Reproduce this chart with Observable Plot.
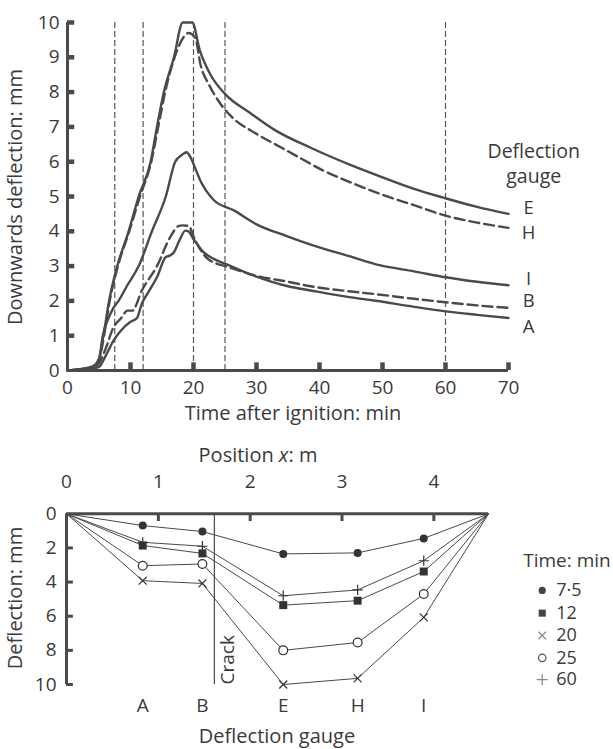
<!DOCTYPE html>
<html><head><meta charset="utf-8">
<script src="https://cdn.jsdelivr.net/npm/d3@7"></script>
<script src="https://cdn.jsdelivr.net/npm/@observablehq/plot@0.6"></script>
<style>
body{margin:0;background:#fff;}
#wrap{position:relative;width:613px;height:749px;overflow:hidden;background:#fff;}
#wrap svg{display:block;}
</style></head><body><div id="wrap"></div>
<script>
// ================= TOP PANEL DATA =================
const guideTimes = [7.5, 12, 20, 25, 60];
const timeTicks = [10, 20, 30, 40, 50, 60, 70];
const timeTickLabels = [0, 10, 20, 30, 40, 50, 60, 70];
const deflTicks = [1, 2, 3, 4, 5, 6, 7, 8, 9, 10];
const deflTickLabels = [0, 1, 2, 3, 4, 5, 6, 7, 8, 9, 10];

const tE = [0, 2, 4, 5, 5.7, 6.6, 7.9, 9.7, 11.3, 13.2, 14.2, 15.3, 16.9, 18.3, 19.8, 21, 22.7, 25, 29, 33, 38.6, 45, 50, 55, 60, 65, 70];
const vE = [0, 0.04, 0.12, 0.35, 1, 2, 3, 4, 5, 6, 7, 8, 9, 10, 10, 9.2, 8.5, 7.95, 7.4, 6.9, 6.4, 5.9, 5.55, 5.22, 4.95, 4.7, 4.5];

const tH = [0, 2, 4, 5, 5.8, 6.7, 8, 9.8, 11.5, 13.3, 14.4, 15.5, 17, 18.5, 19.2, 20.3, 21.1, 22.5, 24.3, 26, 30, 34, 37.5, 40, 45, 50, 55, 60, 65, 70];
const vH = [0, 0.04, 0.1, 0.3, 1, 2, 3, 4, 5, 6, 7, 8, 9, 9.6, 9.7, 9.55, 8.8, 8.2, 7.66, 7.3, 6.8, 6.4, 6.05, 5.8, 5.4, 5.05, 4.75, 4.45, 4.25, 4.1];

const tI = [0, 2, 4, 5, 5.6, 6.5, 7.3, 8.1, 9.5, 11.3, 13.4, 15.6, 17.1, 18.2, 18.9, 19.6, 20.3, 21.1, 23.2, 26.4, 30, 35, 38.6, 45, 49.7, 55, 60, 65, 70];
const vI = [0, 0.03, 0.1, 0.3, 1, 1.5, 1.8, 2, 2.45, 3, 4, 5, 6, 6.2, 6.27, 6.1, 5.8, 5.45, 4.9, 4.6, 4.2, 3.85, 3.62, 3.27, 3.02, 2.85, 2.68, 2.55, 2.45];

const tB = [0, 2, 4, 5, 6, 7.3, 8.5, 9.5, 10.3, 11.8, 14.2, 16.3, 17.6, 18.2, 19.3, 20, 21, 22, 23.3, 25, 30, 35, 38.6, 45, 48.6, 55, 60, 65, 70];
const vB = [0, 0.02, 0.08, 0.2, 0.6, 1.24, 1.5, 1.72, 1.72, 2.3, 3.0, 3.83, 4.15, 4.17, 4.15, 3.85, 3.5, 3.25, 3.1, 3.0, 2.72, 2.55, 2.42, 2.27, 2.2, 2.06, 1.96, 1.87, 1.8];

const tA = [0, 2, 4, 5, 6, 7.3, 8.5, 10, 11, 11.8, 13, 14.2, 15.6, 16.2, 16.9, 17.8, 18.7, 19.2, 20, 21.6, 23.3, 25, 29.5, 35, 38.6, 45, 48.6, 55, 60, 65, 70];
const vA = [0, 0.02, 0.06, 0.1, 0.4, 0.86, 1.15, 1.4, 1.5, 1.92, 2.3, 2.68, 3.26, 3.3, 3.4, 3.75, 4.02, 4.0, 3.78, 3.4, 3.2, 3.07, 2.73, 2.42, 2.3, 2.1, 2.01, 1.83, 1.7, 1.6, 1.51];

const curveNames = ["E", "H", "I", "B", "A"];
const curveLabelT = 73.2;
const curveLabelV = [4.68, 3.94, 2.64, 1.99, 1.26];

// ================= BOTTOM PANEL DATA =================
const gaugeNames = ["A", "B", "E", "H", "I"];
const gaugePos = [0.83, 1.48, 2.36, 3.17, 3.89];
const spanEnd = 4.595;
const crackPos = 1.61;
const posTicks = [1, 2, 3, 4];
const posTickLabels = [0, 1, 2, 3, 4];
const bDeflTicks = [2, 4, 6, 8, 10];
const bDeflTickLabels = [0, 2, 4, 6, 8, 10];
const timeNames = ["7·5", "12", "20", "25", "60"];
const d7_5 = [0.69, 1.04, 2.35, 2.29, 1.44];
const d12 = [1.86, 2.32, 5.35, 5.09, 3.38];
const d20 = [3.92, 4.08, 10.0, 9.64, 6.07];
const d25 = [3.04, 2.94, 8.0, 7.54, 4.7];
const d60 = [1.67, 1.9, 4.8, 4.46, 2.75];
const legendX = 5.18;
const legendTitleX = 5.45;
const legendTitleY = 2.78;
const legendY = [4.49, 5.82, 7.13, 8.44, 9.72];

// ================= STYLE =================
const ink = "#4a4a4a";
const txt = "#3a3a3a";
const font = "'Open Sans', 'Noto Sans', sans-serif";

// ---------- build top ----------
function rows(name, t, v) { return t.map((d, i) => ({gauge: name, t: d, v: v[i]})); }
const solid = [...rows("E", tE, vE), ...rows("I", tI, vI), ...rows("A", tA, vA)];
const dashed = [...rows("H", tH, vH), ...rows("B", tB, vB)];
const curveLabels = curveNames.map((n, i) => ({n, t: curveLabelT, v: curveLabelV[i]}));

const topPlot = Plot.plot({
  width: 613, height: 430,
  marginLeft: 67, marginRight: 105, marginTop: 22, marginBottom: 60,
  x: {domain: [0, 70]},
  y: {domain: [0, 10]},
  style: {fontFamily: font, fontSize: "19px", color: txt, background: "transparent", overflow: "visible"},
  marks: [
    Plot.ruleX(guideTimes, {x: d => d, y1: 0, y2: 10, stroke: "#555", strokeWidth: 1.2, strokeDasharray: "6,3"}),
    Plot.line(solid, {x: "t", y: "v", z: "gauge", stroke: ink, strokeWidth: 2.4, curve: "monotone-x"}),
    Plot.line(dashed, {x: "t", y: "v", z: "gauge", stroke: ink, strokeWidth: 2.4, strokeDasharray: "10,5", curve: "monotone-x"}),
    Plot.ruleY([0], {x1: 0, x2: 70, stroke: ink, strokeWidth: 3}),
    Plot.ruleX([0], {y1: 0, y2: 10, stroke: ink, strokeWidth: 3}),
    Plot.ruleX(timeTicks, {x: d => d, y1: 0, y2: 0.22, stroke: ink, strokeWidth: 4.5}),
    Plot.ruleY(deflTicks, {y: d => d, x1: 0, x2: 1.15, stroke: ink, strokeWidth: 4.5}),
    Plot.axisX(timeTickLabels, {tickSize: 0, tickPadding: 10, label: null}),
    Plot.axisY(deflTickLabels, {tickSize: 0, tickPadding: 8, label: null}),
    Plot.text(curveLabels, {x: "t", y: "v", text: "n", fill: txt, textAnchor: "middle", fontSize: 18.5}),
    Plot.text(["Deflection\ngauge"], {x: 74, y: 5.98, text: d => d, fill: txt, lineHeight: 1.32, textAnchor: "middle", fontSize: 19.5})
  ]
});

// ---------- build bottom ----------
const series = [d7_5, d12, d20, d25, d60];
const bLines = [];
const bDots = [];
series.forEach((vals, k) => {
  bLines.push({time: timeNames[k], x: 0, y: 0});
  vals.forEach((v, i) => {
    bLines.push({time: timeNames[k], x: gaugePos[i], y: v});
    bDots.push({time: timeNames[k], x: gaugePos[i], y: v});
  });
  bLines.push({time: timeNames[k], x: spanEnd, y: 0});
});
const dotsFor = name => bDots.filter(d => d.time === name);
const legend = timeNames.map((n, i) => ({n, y: legendY[i]}));
const legendFor = name => legend.filter(d => d.n === name);

const bottomPlot = Plot.plot({
  width: 613, height: 319,
  marginLeft: 66, marginRight: 125, marginTop: 83.3, marginBottom: 65,
  x: {domain: [0, spanEnd]},
  y: {domain: [0, 10], reverse: true},
  style: {fontFamily: font, fontSize: "19px", color: txt, background: "transparent", overflow: "visible"},
  marks: [
    Plot.ruleX([crackPos], {x: d => d, y1: 0, y2: 10, stroke: ink, strokeWidth: 1.2}),
    Plot.text(["Crack"], {x: crackPos, y: 10, text: d => d, rotate: -90, textAnchor: "start", dx: 14, fill: txt}),
    Plot.line(bLines, {x: "x", y: "y", z: "time", stroke: ink, strokeWidth: 1}),
    Plot.ruleY([0], {x1: 0, x2: spanEnd, stroke: ink, strokeWidth: 3}),
    Plot.ruleX([0], {y1: 0, y2: 10, stroke: ink, strokeWidth: 3}),
    Plot.ruleX(posTicks, {x: d => d, y1: 0, y2: 0.45, stroke: ink, strokeWidth: 3}),
    Plot.ruleY(bDeflTicks, {y: d => d, x1: 0, x2: 0.075, stroke: ink, strokeWidth: 3}),
    Plot.dot(dotsFor("7·5"), {x: "x", y: "y", symbol: "circle", r: 4, fill: "#333", stroke: "none"}),
    Plot.dot(dotsFor("12"), {x: "x", y: "y", symbol: "square", r: 4.5, fill: "#333", stroke: "none"}),
    Plot.dot(dotsFor("20"), {x: "x", y: "y", symbol: "times", r: 3.7, fill: "none", stroke: "#333", strokeWidth: 1.2}),
    Plot.dot(dotsFor("25"), {x: "x", y: "y", symbol: "circle", r: 4.4, fill: "white", stroke: "#333", strokeWidth: 1.2}),
    Plot.dot(dotsFor("60"), {x: "x", y: "y", symbol: "plus", r: 3.4, fill: "none", stroke: "#333", strokeWidth: 1.2}),
    Plot.axisX(posTickLabels, {anchor: "top", tickSize: 0, tickPadding: 26, label: null}),
    Plot.axisX(gaugePos, {anchor: "bottom", tickSize: 0, tickPadding: 14, tickFormat: d => gaugeNames[gaugePos.indexOf(d)], label: null}),
    Plot.axisY(bDeflTickLabels, {anchor: "left", tickSize: 0, tickPadding: 10, label: null}),
    // legend
    Plot.text(["Time: min"], {x: legendTitleX, y: legendTitleY, text: d => d, fill: txt, textAnchor: "middle"}),
    Plot.dot(legendFor("7·5"), {x: legendX, y: "y", symbol: "circle", r: 3.6, fill: "#444"}),
    Plot.dot(legendFor("12"), {x: legendX, y: "y", symbol: "square", r: 4, fill: "#444"}),
    Plot.dot(legendFor("20"), {x: legendX, y: "y", symbol: "times", r: 3.5, fill: "none", stroke: "#888", strokeWidth: 1.2}),
    Plot.dot(legendFor("25"), {x: legendX, y: "y", symbol: "circle", r: 3.7, fill: "white", stroke: "#555", strokeWidth: 1.2}),
    Plot.dot(legendFor("60"), {x: legendX, y: "y", symbol: "plus", r: 3.6, fill: "none", stroke: "#888", strokeWidth: 1.2}),
    Plot.text(legend, {x: legendX, y: "y", text: "n", textAnchor: "start", dx: 14, fill: txt, fontSize: 18})
  ]
});

const wrap = document.getElementById("wrap");
wrap.appendChild(topPlot);
wrap.appendChild(bottomPlot);

// axis titles
function title(svgNode, x, y, parts, rotate) {
  const t = d3.select(svgNode).append("text")
    .attr("transform", `translate(${x},${y})` + (rotate ? ` rotate(${rotate})` : ""))
    .attr("dy", "0.35em")
    .attr("text-anchor", "middle")
    .attr("fill", txt)
    .style("font-family", font).style("font-size", "20px");
  parts.forEach(p => {
    const s = t.append("tspan").text(p.t);
    if (p.i) s.style("font-style", "italic");
  });
}
title(topPlot, 293, 413, [{t: "Time after ignition: min"}]);
title(topPlot, 15, 197, [{t: "Downwards deflection: mm"}], -90);
title(bottomPlot, 258, 25, [{t: "Position "}, {t: "x", i: true}, {t: ": m"}]);
title(bottomPlot, 277, 306, [{t: "Deflection gauge"}]);
title(bottomPlot, 15, 168, [{t: "Deflection: mm"}], -90);
</script>
</body></html>
